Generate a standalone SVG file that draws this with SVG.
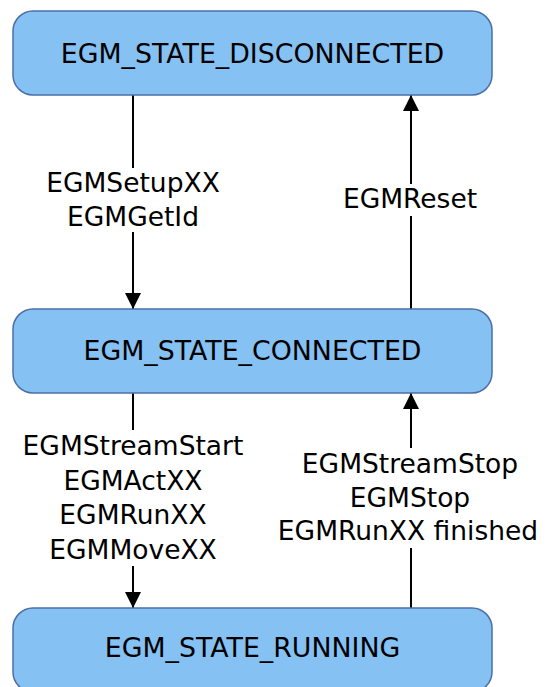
<svg xmlns="http://www.w3.org/2000/svg" width="547" height="687" viewBox="0 0 547 687">
<style>
.node rect{fill:#86C1F3;stroke:#4B6FA6;stroke-width:1.5}
.node text{font-family:"DejaVu Sans","Noto Sans",sans-serif;font-size:26.8px;fill:#000;text-anchor:middle}
.lbl{font-family:"DejaVu Sans","Noto Sans",sans-serif;font-size:26.5px;fill:#000;text-anchor:middle}
.edge{stroke:#000;stroke-width:2;fill:none}
</style>
<defs>
<marker id="ah" viewBox="0 0 16 16" refX="16" refY="8" markerWidth="16" markerHeight="16" markerUnits="userSpaceOnUse" orient="auto">
<path d="M0,0 L16,8 L0,16 Z" fill="#000"/>
</marker>
</defs>
<rect width="547" height="687" fill="#fff"/>
<g id="edges">
<line class="edge" x1="133" y1="95" x2="133" y2="309" marker-end="url(#ah)"/>
<line class="edge" x1="411" y1="309" x2="411" y2="95" marker-end="url(#ah)"/>
<line class="edge" x1="133" y1="393" x2="133" y2="608" marker-end="url(#ah)"/>
<line class="edge" x1="411" y1="608" x2="411" y2="393" marker-end="url(#ah)"/>
<rect x="40" y="168" width="186" height="64" fill="#fff"/>
<text class="lbl" x="133" y="192">EGMSetupXX</text>
<text class="lbl" x="133" y="226">EGMGetId</text>
<rect x="338" y="184" width="145" height="32" fill="#fff"/>
<text class="lbl" x="410" y="208">EGMReset</text>
<rect x="14" y="430" width="238" height="136" fill="#fff"/>
<text class="lbl" x="133" y="455">EGMStreamStart</text>
<text class="lbl" x="133" y="490">EGMActXX</text>
<text class="lbl" x="133" y="524">EGMRunXX</text>
<text class="lbl" x="133" y="559">EGMMoveXX</text>
<rect x="266" y="448" width="281" height="100" fill="#fff"/>
<text class="lbl" x="410" y="473">EGMStreamStop</text>
<text class="lbl" x="410" y="507">EGMStop</text>
<text class="lbl" x="408" y="540">EGMRunXX finished</text>
</g>
<g id="disconnected" class="node">
<rect x="13" y="11" width="479" height="84" rx="20"/>
<text x="252.5" y="63">EGM_STATE_DISCONNECTED</text>
</g>
<g id="connected" class="node">
<rect x="13" y="309" width="479" height="84" rx="20"/>
<text x="252.5" y="360">EGM_STATE_CONNECTED</text>
</g>
<g id="running" class="node">
<rect x="13" y="608" width="479" height="84" rx="20"/>
<text x="252.5" y="657">EGM_STATE_RUNNING</text>
</g>
</svg>
